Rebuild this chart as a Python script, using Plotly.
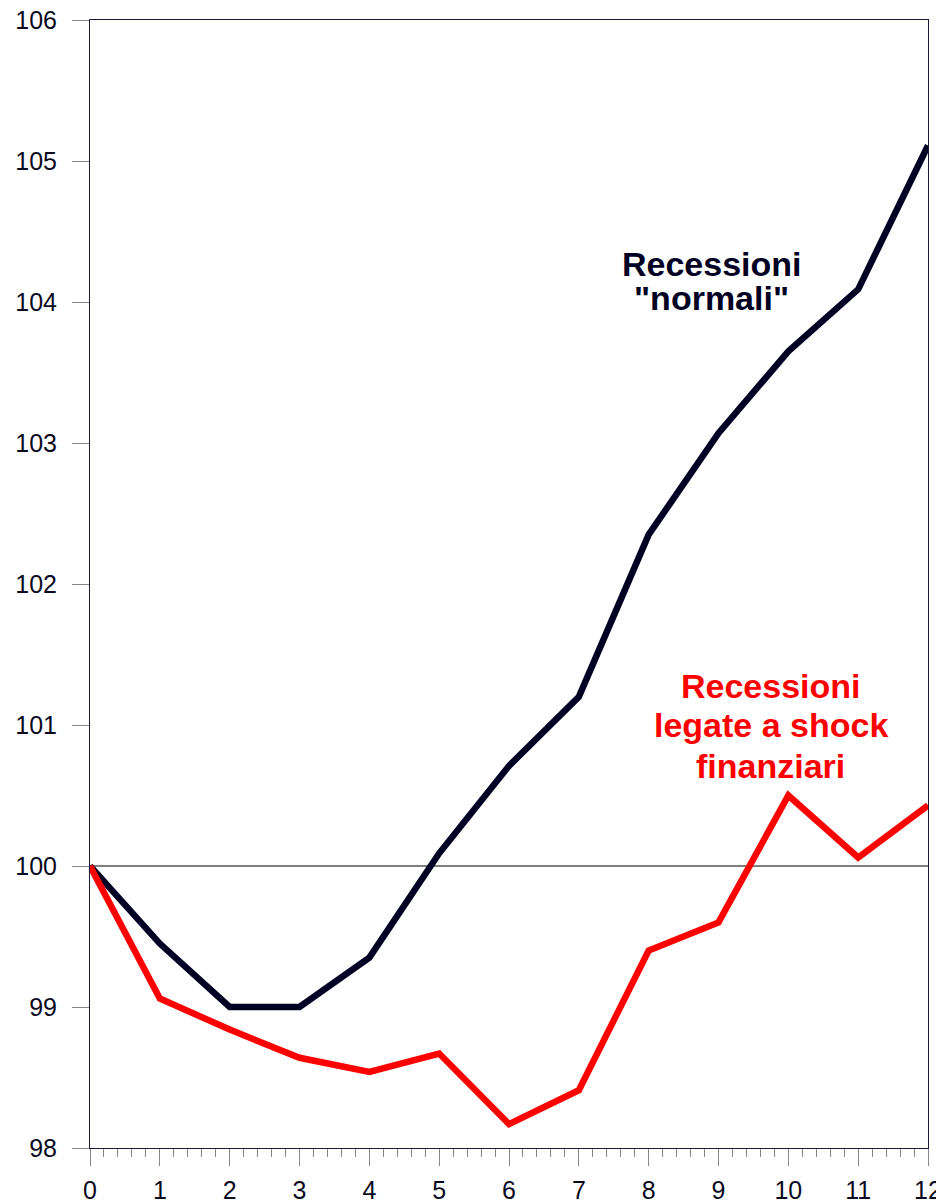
import plotly.graph_objects as go

periods = list(range(13))
normali = [100.0, 99.45, 99.0, 99.0, 99.35, 100.09, 100.71, 101.2, 102.35, 103.07, 103.65, 104.09, 105.11]
finanziari = [100.0, 99.06, 98.84, 98.64, 98.54, 98.67, 98.17, 98.41, 99.40, 99.60, 100.50, 100.06, 100.43]
y_ticks = [98, 99, 100, 101, 102, 103, 104, 105, 106]

label_normali = ["Recessioni", "\"normali\""]
label_finanziari = ["Recessioni", "legate a shock", "finanziari"]

fig = go.Figure()
fig.add_trace(go.Scatter(x=periods, y=normali, mode="lines",
                         line=dict(color="#000022", width=6.5), cliponaxis=False))
fig.add_trace(go.Scatter(x=periods, y=finanziari, mode="lines",
                         line=dict(color="#ff0000", width=6.5), cliponaxis=False))

# linea di riferimento a 100
fig.add_hline(y=100, line=dict(color="black", width=1), layer="below")

# etichette, una riga per annotazione per controllare l'interlinea
for txt, yy in zip(label_normali, [104.27, 104.03]):
    fig.add_annotation(x=8.9, y=yy, text="<b>" + txt + "</b>", showarrow=False,
                       font=dict(size=34, color="#000022"))
for txt, yy in zip(label_finanziari, [101.28, 101.0, 100.71]):
    fig.add_annotation(x=9.75, y=yy, text="<b>" + txt + "</b>", showarrow=False,
                       font=dict(size=34, color="#ff0000"))

# la pagina ha 8px di margine del body
fig.update_layout(
    width=936, height=1196,
    margin=dict(l=82, r=16, t=12, b=56),
    plot_bgcolor="white", paper_bgcolor="white",
    showlegend=False,
    font=dict(family="Liberation Sans, Arial, sans-serif", size=25, color="#0a0a1e"),
)
fig.update_xaxes(range=[0, 12], tickvals=periods, showgrid=False, zeroline=False,
                 showline=True, linecolor="#1a1a3a", linewidth=1, mirror=True,
                 ticks="outside", ticklen=17, tickcolor="#888888", tickwidth=1,
                 minor=dict(dtick=0.2, ticks="outside", ticklen=8, tickcolor="#888888", tickwidth=1),
                 ticklabelstandoff=3, automargin=False, ticklabeloverflow="allow")
fig.update_yaxes(range=[98, 106], tickvals=y_ticks, showgrid=False, zeroline=False,
                 showline=True, linecolor="#1a1a3a", linewidth=1, mirror=True,
                 ticks="outside", ticklen=17, tickcolor="#888888", tickwidth=1,
                 ticklabelstandoff=10, automargin=False, ticklabeloverflow="allow")

fig.write_html("out.html")
